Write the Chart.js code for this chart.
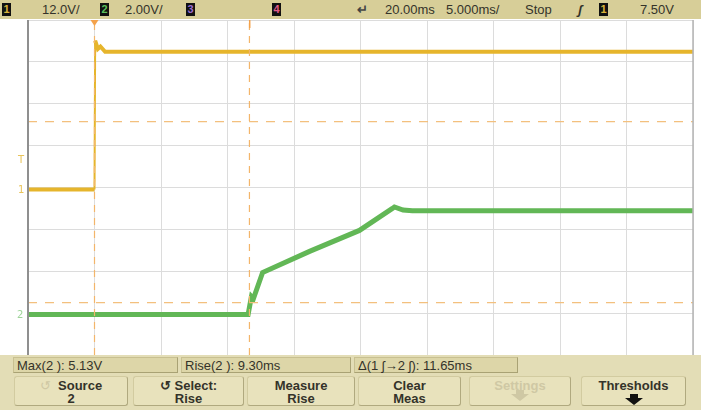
<!DOCTYPE html>
<html lang="en">
<head>
  <meta charset="UTF-8">
  <title>Scope capture - rise time</title>
  <script src="https://cdn.jsdelivr.net/npm/chart.js"></script>
  <style>
    body { margin: 0; background: #fff; }
    #scope {
      position: relative;
      width: 701px;
      height: 410px;
      overflow: hidden;
      font-family: 'Liberation Sans', Arial, sans-serif;
      color: #34332a;
    }
    #scope canvas { position: absolute; left: 0; top: 0; }
    #head {
      position: absolute; left: 0; top: 0; width: 701px; height: 19px;
      background: #d7ce98;
      font-size: 13px;
    }
    #head span { position: absolute; top: 2px; white-space: nowrap; }
    .chbox {
      position: absolute; top: 3px; width: 9px; height: 13px;
      background: #111; font-size: 11px; font-weight: bold;
      text-align: center; line-height: 13px;
    }
    #foot {
      position: absolute; left: 0; top: 355px; width: 701px; height: 55px;
      background: #e3ddb6;
    }
    .stat {
      position: absolute; top: 2px; height: 16px;
      background: #ddd6a8; border: 1px solid #c8c091;
      border-right-color: #a9a274; border-bottom-color: #a9a274;
      font-size: 13px; line-height: 16px; padding-left: 3px;
      box-sizing: border-box; white-space: nowrap;
    }
    .btn {
      position: absolute; top: 21px; height: 30px;
      background: #e8e2bc; border: 1px solid #d2cba0;
      border-right-color: #b0a97f; border-bottom-color: #b0a97f;
      border-radius: 3px;
      font-size: 13px; font-weight: bold; line-height: 13px;
      text-align: center; box-sizing: border-box; padding-top: 2px;
    }
    .btn.dim { color: #cfc8a4; }
    .arrow { margin: 2px auto 0; width: 0; height: 0;
      border-left: 9px solid transparent; border-right: 9px solid transparent;
      border-top: 7px solid #111; position: relative; }
    .arrow::before { content: ''; position: absolute; left: -4px; top: -11px;
      width: 8px; height: 4px; background: #111; }
    .dim .arrow { border-top-color: #cfc8a4; }
    .dim .arrow::before { background: #cfc8a4; }
  </style>
</head>
<body>
<div id="scope">
  <canvas id="chart" width="701" height="410"></canvas>
  <div id="head">
    <div class="chbox" style="left:2px;color:#d9b43a">1</div>
    <span style="left:42px">12.0V/</span>
    <div class="chbox" style="left:100px;color:#5cc05c">2</div>
    <span style="left:125px">2.00V/</span>
    <div class="chbox" style="left:186px;color:#9a6cd0">3</div>
    <div class="chbox" style="left:272px;color:#e05a8a">4</div>
    <span style="left:357px;font-weight:bold;color:#444">&#8629;</span>
    <span style="left:385px">20.00ms</span>
    <span style="left:446px">5.000ms/</span>
    <span style="left:525px">Stop</span>
    <span style="left:578px;font-style:italic;font-weight:bold">&#643;</span>
    <div class="chbox" style="left:599px;color:#d9b43a">1</div>
    <span style="left:640px">7.50V</span>
  </div>
  <div id="foot">
    <div class="stat" style="left:13px;width:165px">Max(2 ): 5.13V</div>
    <div class="stat" style="left:181px;width:170px">Rise(2 ): 9.30ms</div>
    <div class="stat" style="left:354px;width:164px">&Delta;(1 &#643;&rarr;2 &#643;): 11.65ms</div>
    <div class="btn" style="left:14px;width:114px"><span style="color:#cfc8a4;font-weight:normal">&#8634;</span>&nbsp; Source<br>2</div>
    <div class="btn" style="left:133px;width:111px">&#8634; Select:<br>Rise</div>
    <div class="btn" style="left:247px;width:108px">Measure<br>Rise</div>
    <div class="btn" style="left:358px;width:103px">Clear<br>Meas</div>
    <div class="btn dim" style="left:469px;width:102px">Settings<div class="arrow"></div></div>
    <div class="btn" style="left:581px;width:105px">Thresholds<div class="arrow" style="margin-top:6px"></div></div>
  </div>
</div>
<script>
  // timebase (ms) and vertical divisions
  const timeMin = -5, timeMax = 45;
  const divMin = -4, divMax = 4;

  // channel 1 (yellow), volts vs ms
  const ch1Time  = [-5, 0, 0.05, 0.25, 0.45, 0.8, 45];
  const ch1Volts = [0, 0, 42.7, 40.3, 41.0, 39.5, 39.5];
  const ch1VoltsPerDiv = 12.0, ch1OffsetDiv = -0.05;

  // channel 2 (green), volts vs ms
  const ch2Time  = [-5, 11.55, 11.8, 11.95, 12.64, 16.17, 19.92, 22.4, 22.55, 23.2, 23.9, 45];
  const ch2Volts = [0, 0, 0.85, 0.75, 2.0, 3.01, 4.01, 5.06, 5.13, 4.98, 4.95, 4.95];
  const ch2VoltsPerDiv = 2.0, ch2OffsetDiv = -3.03;

  // measurement cursors
  const cursorTimes = [0, 11.65];      // ms
  const cursorLevels = [1.575, -2.75]; // divisions
  const triggerLevel = 7.5;            // volts on ch1

  function trace(times, volts, vpd, off) {
    return times.map((t, i) => ({ x: t, y: volts[i] / vpd + off }));
  }

  const cursorSets = [];
  cursorTimes.forEach(t => cursorSets.push({
    data: [{ x: t, y: divMin }, { x: t, y: divMax }],
    borderColor: '#f3b56a', borderWidth: 1.2, borderDash: [7, 6], pointRadius: 0
  }));
  cursorLevels.forEach(l => cursorSets.push({
    data: [{ x: timeMin, y: l }, { x: timeMax, y: l }],
    borderColor: '#f3c07e', borderWidth: 1.2, borderDash: [9, 8], pointRadius: 0
  }));

  const markers = {
    id: 'markers',
    afterDatasetsDraw(chart) {
      const { ctx, chartArea: a, scales: { x, y } } = chart;
      ctx.save();
      // frame
      ctx.strokeStyle = '#8f8f8f'; ctx.lineWidth = 2;
      ctx.beginPath();
      ctx.moveTo(a.left, a.top); ctx.lineTo(a.left, a.bottom);
      ctx.stroke();
      ctx.strokeStyle = '#b5b5b5'; ctx.lineWidth = 1.5;
      ctx.beginPath();
      ctx.moveTo(a.right, a.top); ctx.lineTo(a.right, a.bottom);
      ctx.stroke();
      // trigger position triangle
      const tx = x.getPixelForValue(cursorTimes[0]);
      ctx.fillStyle = '#f4a24a';
      ctx.beginPath();
      ctx.moveTo(tx - 4, a.top); ctx.lineTo(tx + 4, a.top); ctx.lineTo(tx, a.top + 6);
      ctx.fill();
      ctx.fillRect(x.getPixelForValue(cursorTimes[1]) - 0.5, a.top, 1.5, 8);
      // ground / trigger markers on the left
      ctx.font = '10px "DejaVu Sans"';
      ctx.textBaseline = 'middle';
      ctx.fillStyle = '#e9c45a';
      ctx.fillText('T', 18, y.getPixelForValue(triggerLevel / ch1VoltsPerDiv + ch1OffsetDiv) - 3);
      ctx.fillText('1', 18, y.getPixelForValue(ch1OffsetDiv) + 1);
      ctx.fillStyle = '#9fd49a';
      ctx.fillText('2', 17, y.getPixelForValue(ch2OffsetDiv) + 1);
      ctx.restore();
    }
  };

  new Chart(document.getElementById('chart'), {
    type: 'line',
    data: {
      datasets: [
        ...cursorSets,
        { data: trace(ch2Time, ch2Volts, ch2VoltsPerDiv, ch2OffsetDiv),
          borderColor: '#62b756', borderWidth: 5, pointRadius: 0 },
        { data: trace(ch1Time, ch1Volts, ch1VoltsPerDiv, ch1OffsetDiv),
          borderColor: '#e6b52c', borderWidth: 4, pointRadius: 0,
          segment: { borderWidth: c => (c.p0DataIndex === 1 ? 2 : 4) } }
      ]
    },
    options: {
      responsive: false,
      animation: false,
      layout: { padding: { left: 28, right: 8, top: 20, bottom: 55 } },
      plugins: { legend: { display: false }, tooltip: { enabled: false } },
      elements: { line: { tension: 0, borderCapStyle: 'butt' } },
      scales: {
        x: {
          type: 'linear', min: timeMin, max: timeMax,
          ticks: { display: false, stepSize: 5 },
          grid: { color: '#dcdcdc', lineWidth: 1, drawTicks: false },
          border: { display: false }
        },
        y: {
          min: divMin, max: divMax,
          ticks: { display: false, stepSize: 1 },
          grid: { color: '#dcdcdc', lineWidth: 1, drawTicks: false },
          border: { display: false }
        }
      }
    },
    plugins: [markers]
  });
</script>
</body>
</html>
